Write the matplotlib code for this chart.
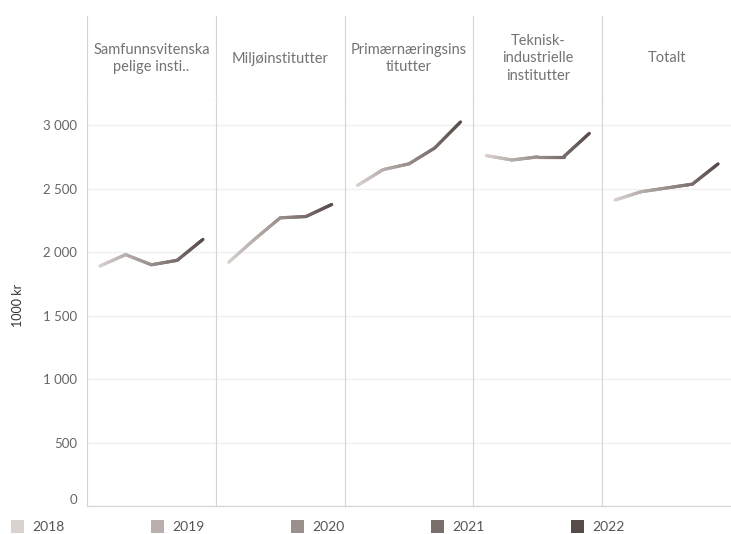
import matplotlib.pyplot as plt
import numpy as np
from matplotlib.collections import LineCollection
from matplotlib.colors import to_rgb
from matplotlib.patches import Rectangle

plt.rcParams['font.family'] = ['Lato', 'DejaVu Sans']

years = ['2018', '2019', '2020', '2021', '2022']
year_colors = ['#d9d2cf', '#b9b0ad', '#9a908d', '#7b6f6d', '#584c4b']

categories = ['Samfunnsvitenska\npelige insti..', 'Miljøinstitutter',
              'Primærnæringsins\ntitutter', 'Teknisk-\nindustrielle\ninstitutter', 'Totalt']
samfunn = [1890, 1980, 1900, 1935, 2100]
miljo = [1920, 2100, 2270, 2280, 2375]
primaer = [2525, 2650, 2695, 2820, 3025]
teknisk = [2760, 2725, 2750, 2750, 2935]
totalt = [2410, 2475, 2505, 2535, 2695]
series = [samfunn, miljo, primaer, teknisk, totalt]

yticks = [0, 500, 1000, 1500, 2000, 2500, 3000]
ytick_labels = ['0', '500', '1 000', '1 500', '2 000', '2 500', '3 000']

W, H = 731, 534
fig = plt.figure(figsize=(W / 100, H / 100), dpi=100)

left, right = 87, 731
top_hdr, top_plot, bottom = 16, 101, 506
pw = (right - left) / 5
line_col = '#d4d4d4'


def gradient_line(ax, y):
    n = 20
    for i in range(len(y) - 1):
        t = np.linspace(0, 1, n + 1)
        xs = i + t
        ys = y[i] + (y[i + 1] - y[i]) * t
        pts = np.column_stack([xs, ys])
        segs = np.stack([pts[:-1], pts[1:]], axis=1)
        c0, c1 = np.array(to_rgb(year_colors[i])), np.array(to_rgb(year_colors[i + 1]))
        tm = (t[:-1] + t[1:]) / 2
        cols = [c0 + (c1 - c0) * tt for tt in tm]
        lc = LineCollection(segs, colors=cols, linewidths=2.3, capstyle='round', zorder=3)
        ax.add_collection(lc)


for k, (cat, vals) in enumerate(zip(categories, series)):
    x0 = (left + k * pw) / W
    # header cell
    hax = fig.add_axes([x0, (H - top_plot) / H, pw / W, (top_plot - top_hdr) / H])
    hax.set_xticks([]); hax.set_yticks([])
    for s in ['top', 'right']:
        hax.spines[s].set_visible(False)
    hax.spines['left'].set_color(line_col)
    hax.spines['bottom'].set_color(line_col)
    hax.text(0.5, 0.5, cat, ha='center', va='center', fontsize=10.5, color='#737373',
             linespacing=1.35, transform=hax.transAxes)

    # plot cell
    ax = fig.add_axes([x0, (H - bottom) / H, pw / W, (bottom - top_plot) / H])
    ax.set_xlim(-0.5, 4.5)
    ax.set_ylim(0, 3190)
    ax.set_xticks([])
    ax.set_yticks(yticks)
    ax.grid(axis='y', color='#f0f0f0', lw=1, zorder=0)
    for s in ['top', 'right']:
        ax.spines[s].set_visible(False)
    ax.spines['left'].set_color(line_col)
    ax.spines['bottom'].set_color(line_col)
    if k == 0:
        ax.set_yticklabels(ytick_labels)
        ax.tick_params(axis='y', length=0, pad=7, labelsize=9.5, labelcolor='#666666')
        ax.yaxis.get_major_ticks()[0].label1.set_verticalalignment('bottom')
    else:
        ax.tick_params(axis='y', length=0, labelleft=False)
    gradient_line(ax, vals)

fig.text(18 / W, (H - 305) / H, '1000 kr', rotation=90, fontsize=9, color='#333333',
         ha='center', va='center')

# legend
for i, (yr, c) in enumerate(zip(years, year_colors)):
    lx = 11 + i * 140
    fig.patches.append(Rectangle((lx / W, (H - 533) / H), 13 / W, 13 / H,
                                 transform=fig.transFigure, facecolor=c, edgecolor='none'))
    fig.text((lx + 21) / W, (H - 527) / H, yr, fontsize=10, color='#555555', va='center')

fig.savefig('out.png', dpi=100)
